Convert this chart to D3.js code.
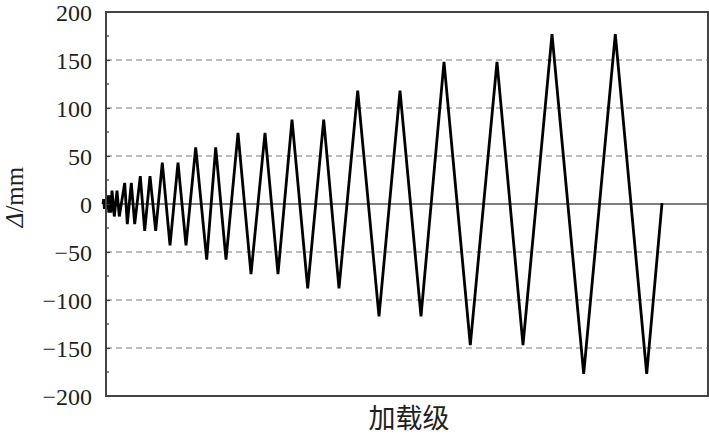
<!DOCTYPE html>
<html><head><meta charset="utf-8">
<script src="https://cdn.jsdelivr.net/npm/d3@7/dist/d3.min.js"></script>
<style>body{margin:0;background:#fff}</style>
</head><body>
<svg id="c" width="709" height="437"></svg>
<script>
// loading time (arbitrary units) of each turning point, and displacement Δ (mm)
const stepT = [-3, -2.3, -1.6, -0.9, -0.2, 0.5, 1.2, 2, 2.8, 3.8, 4.8, 6, 8.3, 11, 13.3, 18.7, 21.3, 25.3, 28.7, 34.3, 38.7, 44, 49.7, 56.3, 64, 72, 80, 89.7, 100.7, 109.7, 120, 132, 145, 159, 172, 186, 201.7, 217.7, 233, 251.7, 273, 294, 315, 338, 364.3, 391, 417, 446, 477.7, 509.3, 540.7, 556];
const delta = [0, 5, -5, 5, -5, 5, -5, 9, -9, 9, -9, 14, -13, 14, -13, 22, -21, 22, -21, 29, -28, 29, -28, 43, -43, 43, -43, 59, -58, 59, -58, 74, -73, 74, -73, 88, -88, 88, -88, 118, -117, 118, -117, 148, -147, 148, -147, 177, -177, 177, -177, 1];
const yTicks = [-200, -150, -100, -50, 0, 50, 100, 150, 200];
const gridVals = [-150, -100, -50, 50, 100, 150];
const minorTicks = [-175, -125, -75, -25, 25, 75, 125, 175];
const xLabel = "加载级";
const yLabelSym = "Δ";
const yLabelUnit = "/mm";

const svg = d3.select("#c");
const L = 106, R = 708, T = 12, B = 396;
const x = d3.scaleLinear().domain([0, 602]).range([L, R]);
const y = d3.scaleLinear().domain([-200, 200]).range([B, T]);

// grid
svg.append("g").selectAll("line").data(gridVals).join("line")
  .attr("x1", L).attr("x2", R)
  .attr("y1", d => y(d)).attr("y2", d => y(d))
  .attr("stroke", "#a6a6a6").attr("stroke-width", 1.5)
  .attr("stroke-dasharray", "6,4");

// zero line
svg.append("line").attr("x1", L).attr("x2", R)
  .attr("y1", y(0)).attr("y2", y(0))
  .attr("stroke", "#000").attr("stroke-width", 1.2);

// data line
const line = d3.line().x((d, i) => x(stepT[i])).y(d => y(d));
svg.append("path").datum(delta)
  .attr("d", line)
  .attr("fill", "none").attr("stroke", "#000")
  .attr("stroke-width", 2.8).attr("stroke-linejoin", "miter");

// left axis: major ticks inward
const axisL = d3.axisLeft(y).tickValues(yTicks).tickSizeInner(-4).tickSizeOuter(0)
  .tickFormat(d => (d < 0 ? "\u2212" + Math.abs(d) : d));
const gA = svg.append("g").attr("transform", `translate(${L},0)`).call(axisL);
gA.select(".domain").remove();
gA.selectAll(".tick line").attr("stroke", "#333").attr("stroke-width", 1.2);
gA.selectAll(".tick text")
  .attr("x", -14).attr("dy", "0.34em")
  .attr("font-family", "'Liberation Serif','Times New Roman',serif")
  .attr("font-size", 24).attr("fill", "#231f20");

// minor ticks
svg.append("g").selectAll("line").data(minorTicks).join("line")
  .attr("x1", L).attr("x2", L + 3)
  .attr("y1", d => y(d)).attr("y2", d => y(d))
  .attr("stroke", "#333").attr("stroke-width", 1.2);

// frame
svg.append("rect").attr("x", L).attr("y", T).attr("width", R - L).attr("height", B - T)
  .attr("fill", "none").attr("stroke", "#444").attr("stroke-width", 2);

// x label
svg.append("text").attr("x", 409).attr("y", 428).attr("text-anchor", "middle")
  .attr("font-family", "'Noto Sans CJK SC',sans-serif").attr("font-size", 27)
  .attr("fill", "#231f20").text(xLabel);

// y label
const yl = svg.append("text").attr("transform", "translate(23,197) rotate(-90)")
  .attr("text-anchor", "middle")
  .attr("font-family", "'Liberation Serif','Times New Roman',serif")
  .attr("font-size", 25).attr("fill", "#231f20");
yl.append("tspan").attr("font-style", "italic").text(yLabelSym);
yl.append("tspan").text(yLabelUnit);
</script>
</body></html>
